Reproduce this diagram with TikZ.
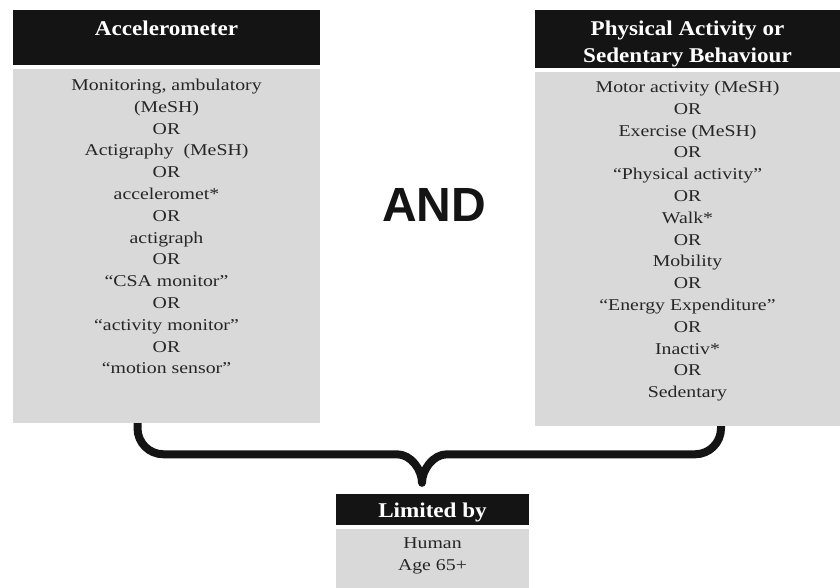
\documentclass[tikz,border=0pt]{standalone}
\usepackage{fontspec}
\setmainfont{Liberation Serif}
\newfontfamily\termfont{Liberation Serif}[FakeStretch=1.2]
\newfontfamily\headfont{Liberation Serif}[FakeStretch=1.1]
\newfontfamily\andfont{Liberation Sans}
\usetikzlibrary{positioning,calc}

\definecolor{headblack}{HTML}{141414}
\definecolor{boxgray}{HTML}{D9D9D9}
\definecolor{termgray}{HTML}{262626}

\tikzset{
  headbox/.style={fill=headblack, inner sep=0pt},
  bodybox/.style={fill=boxgray, inner sep=0pt},
  headtext/.style={text=white, align=center, inner sep=0pt,
    font=\headfont\bfseries\fontsize{21}{27}\selectfont},
  termtext/.style={text=termgray, align=center, inner sep=0pt,
    font=\termfont\fontsize{16.5}{21.8}\selectfont},
  andtext/.style={text=headblack, inner sep=0pt,
    font=\andfont\bfseries\fontsize{48}{50}\selectfont},
  brace/.style={draw=headblack, line width=8pt, line join=round}
}

\begin{document}
\begin{tikzpicture}[x=1pt,y=-1pt]
  \useasboundingbox (0,0) rectangle (840,588);
  % Boxes
  \node[headbox, minimum width=307pt, minimum height=55pt] (acchead) at (166.5,37.5) {};
  \node[bodybox, minimum width=307pt, minimum height=354pt] (accbody) at (166.5,246) {};
  \node[headbox, minimum width=305pt, minimum height=58pt] (pahead) at (687.5,39) {};
  \node[bodybox, minimum width=305pt, minimum height=354pt] (pabody) at (687.5,249) {};
  \node[headbox, minimum width=193pt, minimum height=31pt] (limhead) at (432.5,509.5) {};
  \node[bodybox, minimum width=193pt, minimum height=59pt] (limbody) at (432.5,558.5) {};
  % Titles
  \node[headtext, below=11pt of acchead.north] (acctitle) {Accelerometer};
  \node[headtext, below=11pt of pahead.north] (patitle) {Physical Activity or\\Sedentary Behaviour};
  \node[headtext, below=9pt of limhead.north] (limtitle) {Limited by};
  % Search terms
  \node[termtext, below=10pt of accbody.north] (accterms) {Monitoring, ambulatory\\(MeSH)\\OR\\Actigraphy~ (MeSH)\\OR\\acceleromet*\\OR\\actigraph\\OR\\“CSA monitor”\\OR\\“activity monitor”\\OR\\“motion sensor”};
  \node[termtext, below=9pt of pabody.north] (paterms) {Motor activity (MeSH)\\OR\\Exercise (MeSH)\\OR\\“Physical activity”\\OR\\Walk*\\OR\\Mobility\\OR\\“Energy Expenditure”\\OR\\Inactiv*\\OR\\Sedentary};
  \node[termtext, below=8.5pt of limbody.north] (limterms) {Human\\Age 65+};
  \node[andtext] (and) at (434,205) {AND};
  % Brace
  \coordinate (bl) at ([xshift=-29pt]accbody.south);
  \coordinate (br) at ([xshift=33.5pt]pabody.south);
  \coordinate (tip) at ([xshift=-10.5pt,yshift=11pt]limhead.north);
  \coordinate (cl) at ($(tip)+(-25,-28.5)$);
  \coordinate (cr) at ($(tip)+(25,-28.5)$);
  \coordinate (lc) at (bl |- cl);
  \coordinate (rc) at (br |- cr);
  \draw[brace] (bl) -- ($(lc)+(0,-26)$)
    .. controls ($(lc)+(0,-11.6)$) and ($(lc)+(11.6,0)$) .. ($(lc)+(26,0)$) -- (cl)
    .. controls ($(tip)+(-11,-28.5)$) and ($(tip)+(0,-13)$) .. (tip)
    .. controls ($(tip)+(0,-13)$) and ($(tip)+(11,-28.5)$) .. (cr)
    -- ($(rc)+(-26,0)$)
    .. controls ($(rc)+(-11.6,0)$) and ($(rc)+(0,-11.6)$) .. ($(rc)+(0,-26)$) -- (br);
\end{tikzpicture}
\end{document}
